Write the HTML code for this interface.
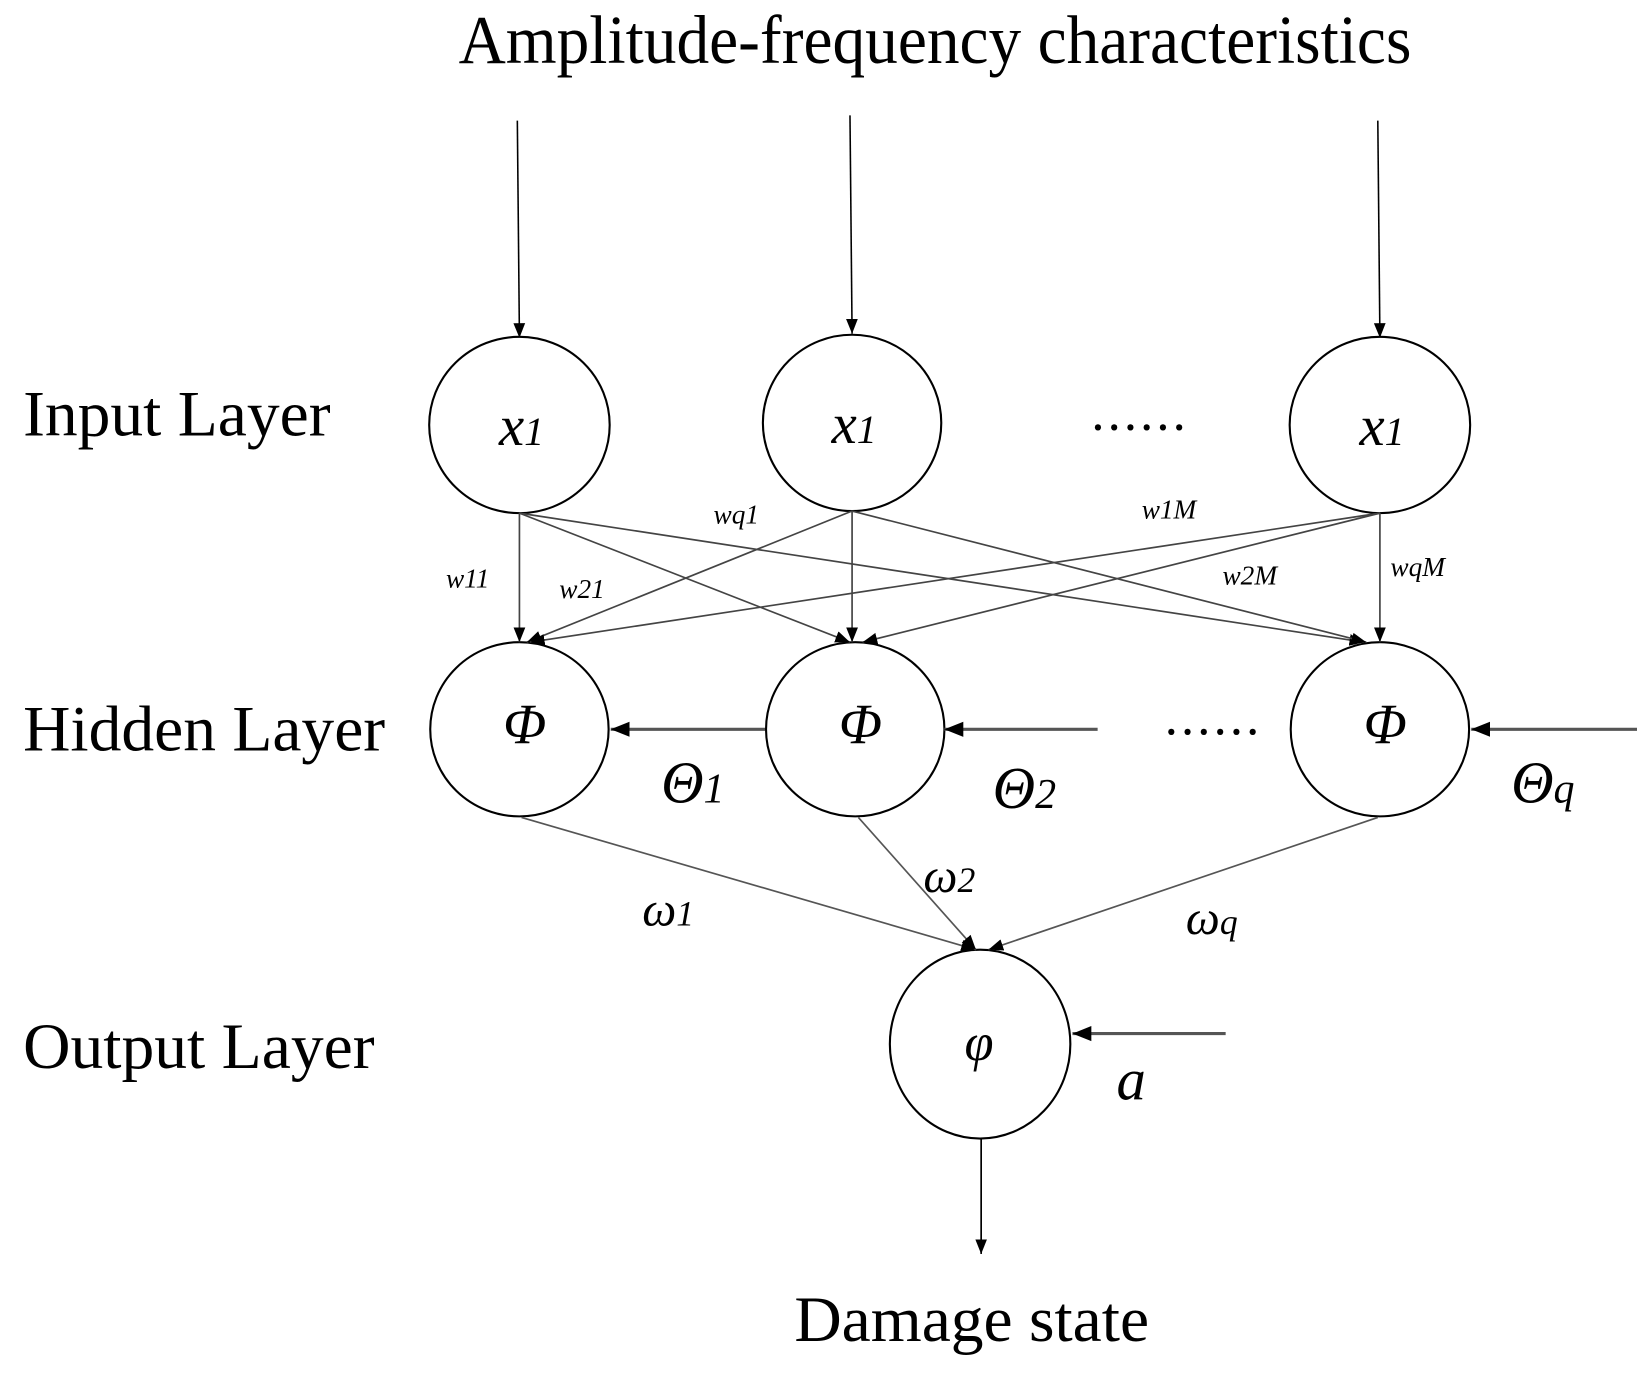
<!DOCTYPE html>
<html><head><meta charset="utf-8"><style>html,body{margin:0;padding:0;background:#fff}svg{display:block}</style></head>
<body>
<svg width="1637" height="1374" viewBox="0 0 1560 1309.4" preserveAspectRatio="none" xmlns="http://www.w3.org/2000/svg" font-family="Liberation Serif, serif">
<defs>
<marker id="a" viewBox="0 0 10 10" refX="10" refY="5" markerWidth="14" markerHeight="14" markerUnits="userSpaceOnUse" orient="auto"><path d="M0,1 L10,5 L0,9 z" fill="#000"/></marker>
<marker id="b" viewBox="0 0 10 10" refX="10" refY="5" markerWidth="18" markerHeight="18" markerUnits="userSpaceOnUse" orient="auto"><path d="M0,1 L10,5 L0,9 z" fill="#000"/></marker>
</defs>
<text x="891" y="60" font-size="66" text-anchor="middle" textLength="908" lengthAdjust="spacingAndGlyphs">Amplitude-frequency characteristics</text>
<text x="22" y="415" font-size="62" textLength="293" lengthAdjust="spacingAndGlyphs">Input Layer</text>
<text x="22" y="715" font-size="62" textLength="345" lengthAdjust="spacingAndGlyphs">Hidden Layer</text>
<text x="22" y="1018" font-size="62" textLength="335" lengthAdjust="spacingAndGlyphs">Output Layer</text>
<text x="926" y="1278" font-size="62" text-anchor="middle" textLength="338" lengthAdjust="spacingAndGlyphs">Damage state</text>

<g stroke="#000" stroke-width="1.5" fill="none">
<line x1="493" y1="115" x2="495" y2="322" marker-end="url(#a)"/>
<line x1="810" y1="110" x2="812" y2="318" marker-end="url(#a)"/>
<line x1="1313" y1="115" x2="1315" y2="322" marker-end="url(#a)"/>
</g>
<g stroke="#000" stroke-width="2" fill="#fff">
<ellipse cx="495" cy="405" rx="86" ry="84"/>
<ellipse cx="812" cy="403" rx="85" ry="84"/>
<ellipse cx="1315" cy="405" rx="86" ry="84"/>
<ellipse cx="495" cy="695" rx="85" ry="83"/>
<ellipse cx="815" cy="695" rx="85" ry="83"/>
<ellipse cx="1315" cy="695" rx="85" ry="83"/>
<ellipse cx="934" cy="995" rx="86" ry="90"/>
</g>
<g font-style="italic" font-size="54" text-anchor="middle">
<text x="497" y="424">x<tspan font-size="38">1</tspan></text>
<text x="814" y="422">x<tspan font-size="38">1</tspan></text>
<text x="1317" y="424">x<tspan font-size="38">1</tspan></text>
<text x="500" y="708">Φ</text>
<text x="820" y="708">Φ</text>
<text x="1320" y="708">Φ</text>
<text x="933" y="1010" font-size="50">φ</text>
</g>
<text x="1040" y="410" font-size="50" letter-spacing="3">......</text>
<text x="1110" y="700" font-size="50" letter-spacing="3">......</text>

<g stroke="#444" stroke-width="1.6" fill="none">
<line x1="495" y1="489" x2="495" y2="612" marker-end="url(#a)"/>
<line x1="495" y1="489" x2="810" y2="612" marker-end="url(#a)"/>
<line x1="495" y1="489" x2="1300" y2="612" marker-end="url(#a)"/>
<line x1="812" y1="487" x2="502" y2="612" marker-end="url(#a)"/>
<line x1="812" y1="487" x2="812" y2="612" marker-end="url(#a)"/>
<line x1="812" y1="487" x2="1302" y2="612" marker-end="url(#a)"/>
<line x1="1315" y1="489" x2="505" y2="612" marker-end="url(#a)"/>
<line x1="1315" y1="489" x2="822" y2="612" marker-end="url(#a)"/>
<line x1="1315" y1="489" x2="1315" y2="612" marker-end="url(#a)"/>
</g>
<g font-style="italic" font-size="26">
<text x="425" y="560">w11</text>
<text x="533" y="570">w21</text>
<text x="680" y="499">wq1</text>
<text x="1088" y="494">w1M</text>
<text x="1165" y="557">w2M</text>
<text x="1325" y="549">wqM</text>
</g>

<g stroke="#555" stroke-width="3" fill="none">
<line x1="729" y1="695" x2="582" y2="695" marker-end="url(#b)"/>
<line x1="1046" y1="695" x2="900" y2="695" marker-end="url(#b)"/>
<line x1="1560" y1="695" x2="1402" y2="695" marker-end="url(#b)"/>
<line x1="1168" y1="985" x2="1022" y2="985" marker-end="url(#b)"/>
</g>
<g font-style="italic" font-size="56">
<text x="630" y="765">Θ<tspan font-size="40">1</tspan></text>
<text x="946" y="770">Θ<tspan font-size="40">2</tspan></text>
<text x="1440" y="765">Θ<tspan font-size="40">q</tspan></text>
<text x="1064" y="1048">a</text>
</g>

<g stroke="#555" stroke-width="1.6" fill="none">
<line x1="497" y1="779" x2="930" y2="905" marker-end="url(#a)"/>
<line x1="818" y1="779" x2="930" y2="905" marker-end="url(#a)"/>
<line x1="1313" y1="779" x2="942" y2="905" marker-end="url(#a)"/>
<line x1="935" y1="1085" x2="935" y2="1195" stroke="#000" marker-end="url(#a)"/>
</g>
<g font-style="italic" font-size="46">
<text x="612" y="882">ω<tspan font-size="34">1</tspan></text>
<text x="880" y="850">ω<tspan font-size="34">2</tspan></text>
<text x="1130" y="890">ω<tspan font-size="34">q</tspan></text>
</g>
</svg>
</body></html>
